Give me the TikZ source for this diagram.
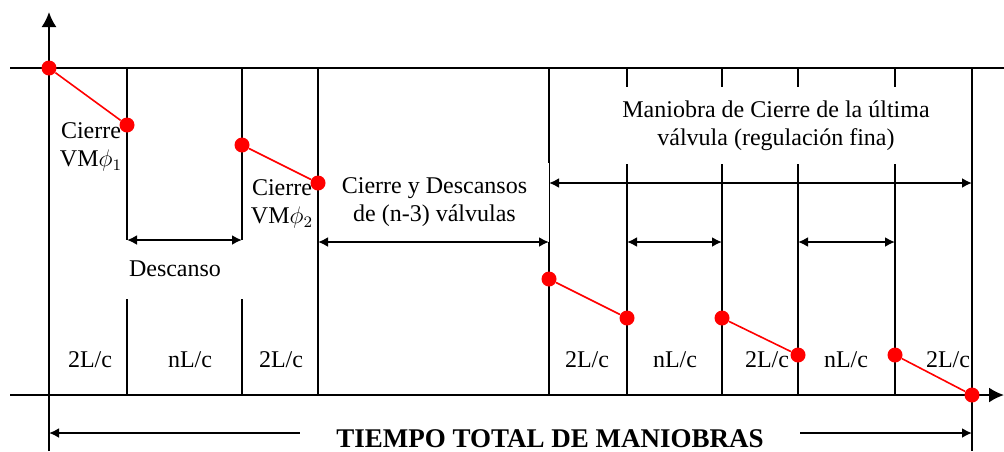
\documentclass[tikz,border=0pt]{standalone}
\usepackage{fontspec}
\setmainfont{Liberation Serif}
\usetikzlibrary{arrows.meta}

\begin{document}
\begin{tikzpicture}[
    x=0.5pt, y=-0.5pt,
    every node/.style={font=\fontsize{12}{14}\selectfont},
    gridline/.style={line width=1pt},
    whitebox/.style={fill=white, align=center, inner sep=0pt},
    dimarrow/.style={line width=1pt, {Latex[length=5pt,width=5pt]}-{Latex[length=5pt,width=5pt]}},
    axisarrow/.style={line width=1pt, -{Latex[length=7.5pt,width=7.5pt]}},
    reddot/.style={circle, fill=red, inner sep=0pt, minimum size=7.5pt},
    redline/.style={red, line width=0.8pt},
    ]
    \useasboundingbox (0,0) rectangle (1004,451);

    %Axes
    \coordinate (ybase) at (49,451);
    \coordinate (ytip)  at (49,12);
    \coordinate (xbase) at (10,395);
    \coordinate (xtip)  at (1004,395);
    \coordinate (topleft)  at (10,68);
    \coordinate (topright) at (1004,68);
    \draw[axisarrow] (ybase) -- (ytip);
    \draw[axisarrow] (xbase) -- (xtip);
    \draw[gridline] (topleft) -- (topright);

    %Time marks
    \coordinate (t1) at (127,68);  \coordinate (b1) at (127,395);
    \coordinate (t2) at (242,68);  \coordinate (b2) at (242,395);
    \coordinate (t3) at (318,68);  \coordinate (b3) at (318,395);
    \coordinate (t4) at (549,68);  \coordinate (b4) at (549,395);
    \coordinate (t5) at (627,68);  \coordinate (b5) at (627,395);
    \coordinate (t6) at (722,68);  \coordinate (b6) at (722,395);
    \coordinate (t7) at (798,68);  \coordinate (b7) at (798,395);
    \coordinate (t8) at (895,68);  \coordinate (b8) at (895,395);
    \coordinate (t9) at (972,68);  \coordinate (b9) at (972,451);
    \draw[gridline] (t1) -- (b1);
    \draw[gridline] (t2) -- (b2);
    \draw[gridline] (t3) -- (b3);
    \draw[gridline] (t4) -- (b4);
    \draw[gridline] (t5) -- (b5);
    \draw[gridline] (t6) -- (b6);
    \draw[gridline] (t7) -- (b7);
    \draw[gridline] (t8) -- (b8);
    \draw[gridline] (t9) -- (b9);

    %Text boxes
    \node[whitebox, minimum width=75pt, minimum height=29.5pt] (descanso) at (175,269) {Descanso};
    \node[whitebox, minimum width=114.5pt, minimum height=39.5pt] (resto) at (434.5,202.5)
        {Cierre y Descansos\\de (n-3) válvulas};
    \node[whitebox, minimum width=170pt, minimum height=38.5pt] (ultima) at (776,125.5)
        {Maniobra de Cierre de la última\\válvula (regulación fina)};

    %Dimension arrows
    \coordinate (d1a) at (127,240); \coordinate (d1b) at (242,240);
    \coordinate (d2a) at (318,242); \coordinate (d2b) at (549,242);
    \coordinate (d3a) at (627,242); \coordinate (d3b) at (722,242);
    \coordinate (d4a) at (798,242); \coordinate (d4b) at (895,242);
    \coordinate (d5a) at (549,183); \coordinate (d5b) at (972,183);
    \coordinate (d6a) at (49,433);  \coordinate (d6b) at (972,433);
    \draw[dimarrow] (d1a) -- (d1b);
    \draw[dimarrow] (d2a) -- (d2b);
    \draw[dimarrow] (d3a) -- (d3b);
    \draw[dimarrow] (d4a) -- (d4b);
    \draw[dimarrow] (d5a) -- (d5b);
    \draw[dimarrow] (d6a) -- (d6b);
    \node[whitebox, minimum width=250pt, font=\fontsize{13.5}{16}\selectfont\bfseries] (total) at (550,439)
        {TIEMPO TOTAL DE MANIOBRAS};

    %Labels
    \node[align=center] (cierre1) at (91,147) {Cierre\\VM$\phi_1$};
    \node[align=center] (cierre2) at (282,204) {Cierre\\VM$\phi_2$};
    \node (s1)  at (90,360)  {2L/c};
    \node (s2)  at (190,360) {nL/c};
    \node (s3)  at (281,360) {2L/c};
    \node (s4)  at (587,360) {2L/c};
    \node (s5)  at (675,360) {nL/c};
    \node (s6)  at (767,360) {2L/c};
    \node (s7)  at (846,360) {nL/c};
    \node (s8)  at (948,360) {2L/c};

    %Closing steps
    \node[reddot] (p1)  at (49,68)   {};
    \node[reddot] (p2)  at (127,125) {};
    \node[reddot] (p3)  at (242,145) {};
    \node[reddot] (p4)  at (318,183) {};
    \node[reddot] (p5)  at (549,279) {};
    \node[reddot] (p6)  at (627,318) {};
    \node[reddot] (p7)  at (722,318) {};
    \node[reddot] (p8)  at (798,355) {};
    \node[reddot] (p9)  at (895,355) {};
    \node[reddot] (p10) at (972,395) {};
    \draw[redline] (p1) -- (p2);
    \draw[redline] (p3) -- (p4);
    \draw[redline] (p5) -- (p6);
    \draw[redline] (p7) -- (p8);
    \draw[redline] (p9) -- (p10);

\end{tikzpicture}
\end{document}
